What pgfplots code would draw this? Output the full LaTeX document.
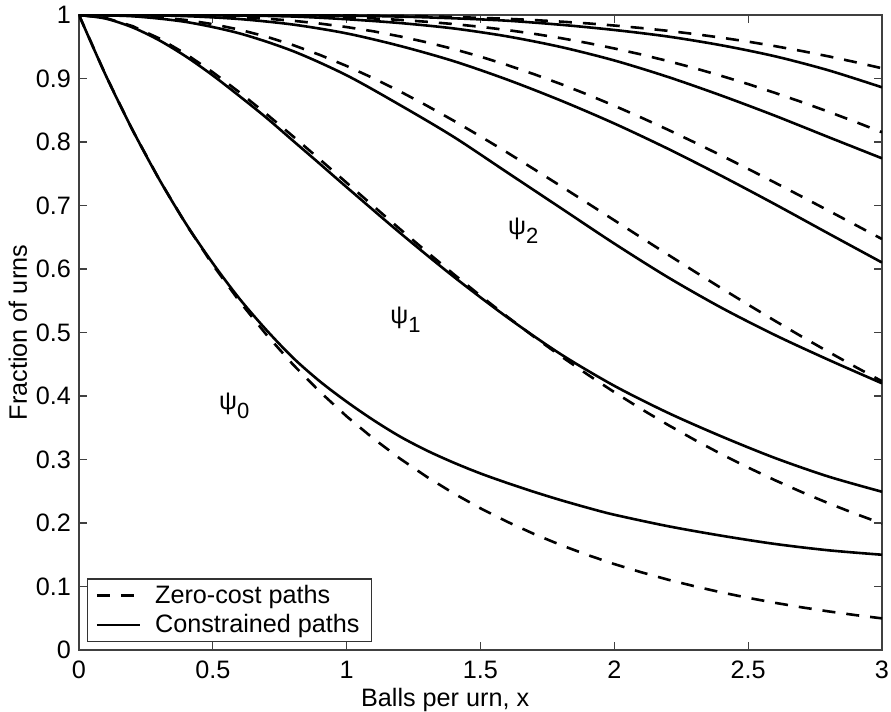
\documentclass[border=0pt]{standalone}
\usepackage{pgfplots}
\pgfplotsset{compat=1.18}
\usepackage{fontspec}
\setmainfont{Liberation Sans}

\newcommand\labfont{\fontsize{12.6}{15}\selectfont}
\newcommand\psilab[1]{ψ\raisebox{-4.5pt}{\fontsize{11}{13}\selectfont #1}}

\pgfplotsset{
  mylegend/.style={legend image code/.code={
      \draw[##1, line width=1.3pt] (0pt,0pt) -- (21.5pt,0pt);
      \path[draw=none, fill=none] (27pt,0pt) circle (0.1pt);}},
}

\begin{document}
\begin{tikzpicture}
\begin{axis}[
    scale only axis,
    width=401.5pt, height=317.5pt,
    xmin=0, xmax=3, ymin=0, ymax=1,
    xtick={0,0.5,1,1.5,2,2.5,3},
    ytick={0,0.1,0.2,0.3,0.4,0.5,0.6,0.7,0.8,0.9,1},
    tick align=inside,
    major tick length=4pt,
    axis line style={black!75, line width=0.7pt},
    tick style={black!75, line width=0.6pt},
    /pgf/number format/assume math mode=true,
    ticklabel style={font=\labfont},
    xticklabel style={yshift=-2pt},
    yticklabel style={xshift=-0.5pt},
    xlabel={Balls per urn, x},
    ylabel={Fraction of urns},
    label style={font=\labfont},
    xlabel style={at={(axis description cs:0.456,-0.078)}, anchor=center},
    ylabel style={at={(axis description cs:-0.076,0.5)}, anchor=center},
    legend cell align=left,
    legend style={at={(0.01,0.0125)}, anchor=south west, font=\labfont,
        draw=black!80, line width=0.6pt, inner xsep=4pt, inner ysep=1pt,
        row sep=0pt},
    clip=true,
]
% zero-cost paths (dashed)
\addplot[black, line width=1.3pt, dash pattern=on 6.5pt off 5.5pt, mylegend] coordinates {
(0,1) (0.1,0.9048) (0.2,0.8187) (0.3,0.7408) (0.4,0.6703) (0.5,0.6065) (0.6,0.5488) (0.7,0.4966) (0.8,0.4493) (0.9,0.4066) (1,0.3679) (1.1,0.3329) (1.2,0.3012) (1.3,0.2725) (1.4,0.2466) (1.5,0.2231) (1.6,0.2019) (1.7,0.1827) (1.8,0.1653) (1.9,0.1496) (2,0.1353) (2.1,0.1225) (2.2,0.1108) (2.3,0.1003) (2.4,0.0907) (2.5,0.0821) (2.6,0.0743) (2.7,0.0672) (2.8,0.0608) (2.9,0.0550) (3,0.0498)};
\addlegendentry{Zero-cost paths}
% constrained paths (solid)
\addplot[black, line width=1.3pt, smooth, mylegend] coordinates {
(0,1) (0.1,0.905) (0.2,0.819) (0.3,0.741) (0.4,0.671) (0.5,0.609) (0.6,0.553) (0.7,0.504) (0.8,0.460) (0.9,0.423) (1,0.391) (1.1,0.362) (1.2,0.336) (1.3,0.314) (1.4,0.295) (1.5,0.278) (1.6,0.263) (1.7,0.249) (1.8,0.236) (1.9,0.224) (2,0.213) (2.2,0.195) (2.4,0.180) (2.6,0.167) (2.8,0.157) (3,0.150)};
\addlegendentry{Constrained paths}

\addplot[black, line width=1.3pt, dash pattern=on 6.5pt off 5.5pt, forget plot] coordinates {
(0,1) (0.1,0.9953) (0.2,0.9825) (0.3,0.9631) (0.4,0.9384) (0.5,0.9098) (0.6,0.8781) (0.7,0.8442) (0.8,0.8088) (0.9,0.7725) (1,0.7358) (1.1,0.6990) (1.2,0.6626) (1.3,0.6268) (1.4,0.5918) (1.5,0.5578) (1.6,0.5249) (1.7,0.4932) (1.8,0.4628) (1.9,0.4338) (2,0.4060) (2.1,0.3796) (2.2,0.3546) (2.3,0.3309) (2.4,0.3084) (2.5,0.2873) (2.6,0.2674) (2.7,0.2487) (2.8,0.2311) (2.9,0.2146) (3,0.1991)};
\addplot[black, line width=1.3pt, dash pattern=on 6.5pt off 5.5pt, forget plot] coordinates {
(0,1) (0.1,0.9998) (0.2,0.9989) (0.3,0.9964) (0.4,0.9921) (0.5,0.9856) (0.6,0.9769) (0.7,0.9659) (0.8,0.9526) (0.9,0.9371) (1,0.9197) (1.1,0.9004) (1.2,0.8795) (1.3,0.8571) (1.4,0.8335) (1.5,0.8088) (1.6,0.7834) (1.7,0.7572) (1.8,0.7306) (1.9,0.7037) (2,0.6767) (2.1,0.6496) (2.2,0.6227) (2.3,0.5960) (2.4,0.5697) (2.5,0.5438) (2.6,0.5184) (2.7,0.4936) (2.8,0.4695) (2.9,0.4460) (3,0.4232)};
\addplot[black, line width=1.3pt, dash pattern=on 6.5pt off 5.5pt, forget plot] coordinates {
(0,1) (0.1,1.0000) (0.2,0.9999) (0.3,0.9997) (0.4,0.9992) (0.5,0.9982) (0.6,0.9966) (0.7,0.9942) (0.8,0.9909) (0.9,0.9865) (1,0.9810) (1.1,0.9743) (1.2,0.9662) (1.3,0.9569) (1.4,0.9463) (1.5,0.9344) (1.6,0.9212) (1.7,0.9068) (1.8,0.8913) (1.9,0.8747) (2,0.8571) (2.1,0.8386) (2.2,0.8194) (2.3,0.7993) (2.4,0.7787) (2.5,0.7576) (2.6,0.7360) (2.7,0.7141) (2.8,0.6919) (2.9,0.6696) (3,0.6472)};
\addplot[black, line width=1.3pt, dash pattern=on 6.5pt off 5.5pt, forget plot] coordinates {
(0,1) (0.1,1) (0.2,1) (0.3,1) (0.4,0.9999) (0.5,0.9998) (0.6,0.9996) (0.7,0.9992) (0.8,0.9986) (0.9,0.9977) (1,0.9963) (1.1,0.9946) (1.2,0.9923) (1.3,0.9893) (1.4,0.9857) (1.5,0.9814) (1.6,0.9763) (1.7,0.9704) (1.8,0.9636) (1.9,0.9559) (2,0.9473) (2.1,0.9379) (2.2,0.9275) (2.3,0.9163) (2.4,0.9041) (2.5,0.8912) (2.6,0.8774) (2.7,0.8629) (2.8,0.8477) (2.9,0.8318) (3,0.8153)};
\addplot[black, line width=1.3pt, dash pattern=on 6.5pt off 5.5pt, forget plot] coordinates {
(0,1) (0.1,1) (0.2,1) (0.3,1) (0.4,1) (0.5,1) (0.6,1) (0.7,0.9999) (0.8,0.9998) (0.9,0.9997) (1,0.9994) (1.1,0.9990) (1.2,0.9985) (1.3,0.9978) (1.4,0.9968) (1.5,0.9955) (1.6,0.9940) (1.7,0.9920) (1.8,0.9896) (1.9,0.9868) (2,0.9834) (2.1,0.9795) (2.2,0.9751) (2.3,0.9700) (2.4,0.9643) (2.5,0.9580) (2.6,0.9510) (2.7,0.9433) (2.8,0.9349) (2.9,0.9258) (3,0.9161)};

\addplot[black, line width=1.3pt, smooth, forget plot] coordinates {
(0,1) (0.1,0.9943) (0.2,0.9805) (0.3,0.9601) (0.4,0.9345) (0.5,0.9048) (0.6,0.8721) (0.7,0.8382) (0.8,0.8018) (0.9,0.7655) (1,0.7288) (1.2,0.6566) (1.4,0.5878) (1.6,0.5239) (1.8,0.4658) (2,0.4160) (2.2,0.3736) (2.4,0.3364) (2.6,0.3024) (2.8,0.2731) (3,0.2492)};
\addplot[black, line width=1.3pt, smooth, forget plot] coordinates {
(0,1) (0.2,0.998) (0.4,0.989) (0.6,0.971) (0.8,0.943) (1,0.905) (1.2,0.858) (1.4,0.808) (1.6,0.752) (1.8,0.696) (2,0.640) (2.2,0.587) (2.4,0.539) (2.6,0.496) (2.8,0.457) (3,0.420)};
\addplot[black, line width=1.3pt, smooth, forget plot] coordinates {
(0,1) (0.2,0.9999) (0.4,0.9982) (0.6,0.9936) (0.8,0.9849) (1,0.9710) (1.2,0.9512) (1.4,0.9273) (1.6,0.8982) (1.8,0.8653) (2,0.8291) (2.2,0.7894) (2.4,0.7467) (2.6,0.7020) (2.8,0.6559) (3,0.6102)};
\addplot[black, line width=1.3pt, smooth, forget plot] coordinates {
(0,1) (0.2,1) (0.4,0.9999) (0.6,0.9991) (0.8,0.9976) (1,0.9933) (1.2,0.9873) (1.4,0.9788) (1.6,0.9663) (1.8,0.9496) (2,0.9284) (2.2,0.9025) (2.4,0.8731) (2.6,0.8414) (2.8,0.8077) (3,0.7743)};
\addplot[black, line width=1.3pt, smooth, forget plot] coordinates {
(0,1) (0.2,1) (0.4,1) (0.6,1) (0.8,0.9998) (1,0.9990) (1.2,0.9975) (1.4,0.9948) (1.6,0.9910) (1.8,0.9846) (2,0.9764) (2.2,0.9661) (2.4,0.9523) (2.6,0.9350) (2.8,0.9129) (3,0.8861)};

\node[font=\labfont] at (axis cs:0.58,0.385) {\psilab{0}};
\node[font=\labfont] at (axis cs:1.22,0.52) {\psilab{1}};
\node[font=\labfont] at (axis cs:1.66,0.66) {\psilab{2}};
\end{axis}
\pgfresetboundingbox
\path[use as bounding box] ([xshift=-39.5pt,yshift=-31pt]current axis.south west) rectangle ([xshift=4.5pt,yshift=7.5pt]current axis.north east);
\end{tikzpicture}
\end{document}
